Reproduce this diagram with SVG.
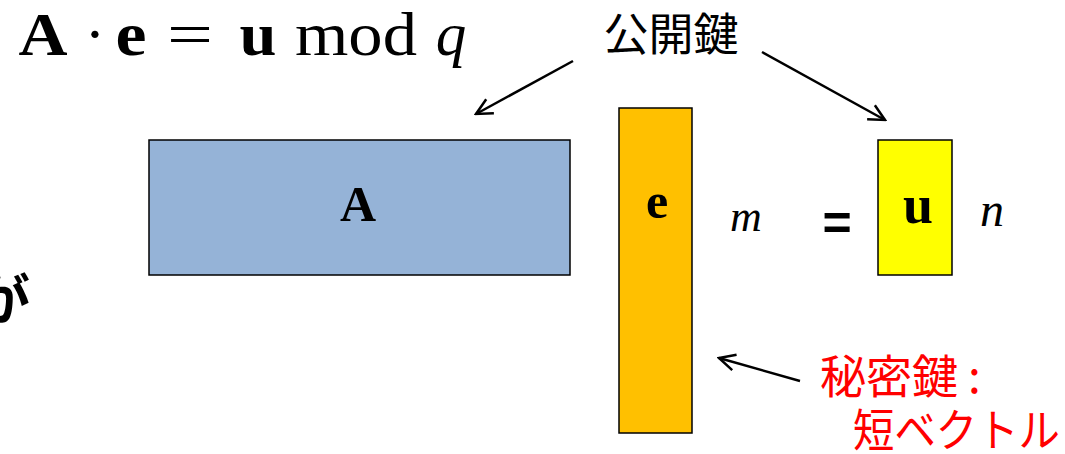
<svg xmlns="http://www.w3.org/2000/svg" width="1065" height="454" viewBox="0 0 1065 454">
<style>
.m{font-family:"Liberation Serif","DejaVu Serif",serif;fill:#000}
.b{font-weight:bold}
.i{font-style:italic}
.jp{font-family:"Noto Sans CJK JP","Noto Sans",sans-serif}
.box{stroke:#000;stroke-width:1.5}
.con{stroke:#000;stroke-width:2.5;fill:none;marker-end:url(#ah)}
</style>
<defs>
<marker id="ah" viewBox="0 0 20 20" refX="18" refY="10" markerWidth="20" markerHeight="20" markerUnits="userSpaceOnUse" orient="auto">
<path d="M2,2 L18,10 L2,18" fill="none" stroke="#000" stroke-width="2.5"/>
</marker>
</defs>
<rect width="1065" height="454" fill="#fff"/>
<g id="equation" text-anchor="middle">
<text class="m b" x="43" y="55" font-size="61" textLength="49" lengthAdjust="spacingAndGlyphs">A</text>
<text class="m" x="95" y="55" font-size="61">·</text>
<text class="m b" x="131" y="55" font-size="62" textLength="31" lengthAdjust="spacingAndGlyphs">e</text>
<text class="m" x="190" y="55" font-size="61" textLength="46" lengthAdjust="spacingAndGlyphs">=</text>
<text class="m b" x="258" y="55" font-size="61" textLength="37" lengthAdjust="spacingAndGlyphs">u</text>
<text class="m" x="356" y="55" font-size="61" textLength="122" lengthAdjust="spacingAndGlyphs">mod</text>
<text class="m i" x="451" y="55" font-size="61">q</text>
</g>
<g id="partial-text">
<text class="jp" x="-24" y="320" font-size="54" font-weight="bold">が</text>
</g>
<g id="nodeA">
<rect class="box" x="149" y="140" width="421" height="135" fill="#95b3d7"/>
<text class="m b" x="358" y="221" font-size="50" text-anchor="middle">A</text>
</g>
<g id="nodeE">
<rect class="box" x="619" y="108" width="73" height="325" fill="#ffc000"/>
<text class="m b" x="657" y="218" font-size="50" text-anchor="middle">e</text>
<text class="m i" x="746" y="231" font-size="44" text-anchor="middle">m</text>
</g>
<g id="equals">
<text x="837" y="240" font-family="Liberation Sans,sans-serif" font-weight="bold" font-size="50" text-anchor="middle">=</text>
</g>
<g id="nodeU">
<rect class="box" x="878" y="140" width="74" height="135" fill="#ffff00"/>
<text class="m b" x="918" y="223" font-size="54" text-anchor="middle">u</text>
<text class="m i" x="992" y="226" font-size="48" text-anchor="middle">n</text>
</g>
<g id="publicKey">
<text class="jp" x="671" y="51" font-size="45" text-anchor="middle">公開鍵</text>
</g>
<g id="secretKey" fill="#ff0000">
<text class="jp" x="820" y="393" font-size="46">秘密鍵<tspan dx="10">:</tspan></text>
<text class="jp" x="853" y="447" font-size="45" textLength="207" lengthAdjust="spacingAndGlyphs">短ベクトル</text>
</g>
<g id="connectors">
<line class="con" x1="573" y1="61" x2="476" y2="114"/>
<line class="con" x1="762" y1="52" x2="885" y2="120"/>
<line class="con" x1="800" y1="381" x2="719" y2="358"/>
</g>
</svg>
